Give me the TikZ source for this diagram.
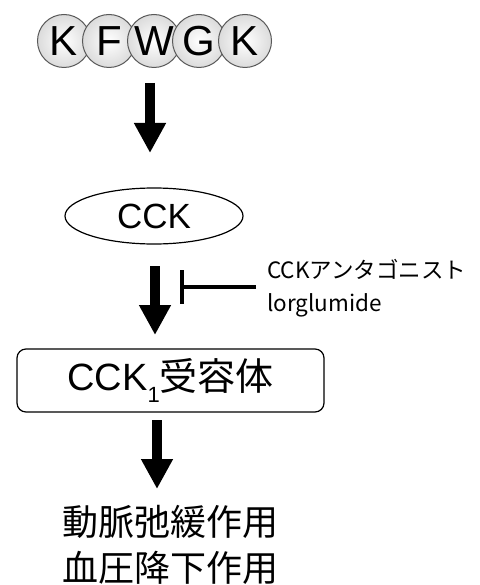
\documentclass[tikz,border=0pt]{standalone}
\usepackage{fontspec}
\setmainfont{Liberation Sans}
\newfontfamily\jp{Noto Sans CJK JP}
\usetikzlibrary{arrows.meta,shapes.geometric}
\tikzset{
  pep/.style={circle,draw=black!65,line width=1pt,minimum size=53pt,inner sep=0pt,
    inner color=white,outer color=black!14,font=\fontsize{42}{42}\selectfont},
  bigarrow/.style={line width=10pt,-{Triangle[length=30pt,width=30pt]}},
  inhib/.style={line width=3.5pt},
}
\begin{document}
\begin{tikzpicture}[x=1pt,y=-1pt]
\useasboundingbox (0,0) rectangle (479,585);
% peptide circles
\node[pep] (k1) at (64,41) {K};
\node[pep] (f)  at (109,41) {F};
\node[pep] (w)  at (154,41) {W};
\node[pep] (g)  at (199,41) {G};
\node[pep] (k2) at (245,41) {K};
% CCK ellipse
\node[ellipse,draw,line width=1.2pt,minimum width=178pt,minimum height=56pt,inner sep=0pt,
  font=\fontsize{35}{35}\selectfont] (cck) at (154,216) {CCK};
% receptor box
\node[draw,line width=1.2pt,rounded corners=9pt,minimum width=307pt,minimum height=63pt,
  font=\fontsize{38}{38}\selectfont] (rec) at (170.5,380.5)
  {CCK\raisebox{-0.3em}{\fontsize{22}{22}\selectfont 1}{\jp 受容体}};
% effects
\node[align=center,font=\jp\fontsize{36}{46}\selectfont] (eff) at (170,545)
  {動脈弛緩作用\\血圧降下作用};
% antagonist
\node[anchor=west,align=left,inner sep=0pt,font=\jp\fontsize{22.5}{33}\selectfont] (ant) at (267,288)
  {CCKアンタゴニスト\\lorglumide};
% arrows
\coordinate (a1s) at (150,83);  \coordinate (a1e) at (150,153);
\coordinate (a2s) at (155,266); \coordinate (a2e) at (155,335);
\coordinate (a3s) at (157,420); \coordinate (a3e) at (157,489);
\draw[bigarrow] (a1s) -- (a1e);
\draw[bigarrow] (a2s) -- (a2e);
\draw[bigarrow] (a3s) -- (a3e);
% inhibitor
\coordinate (ib) at (182,287);
\coordinate (ie) at (256,287);
\draw[inhib] (ie) -- (ib);
\draw[inhib] (182,270) -- (182,304);
\end{tikzpicture}
\end{document}
